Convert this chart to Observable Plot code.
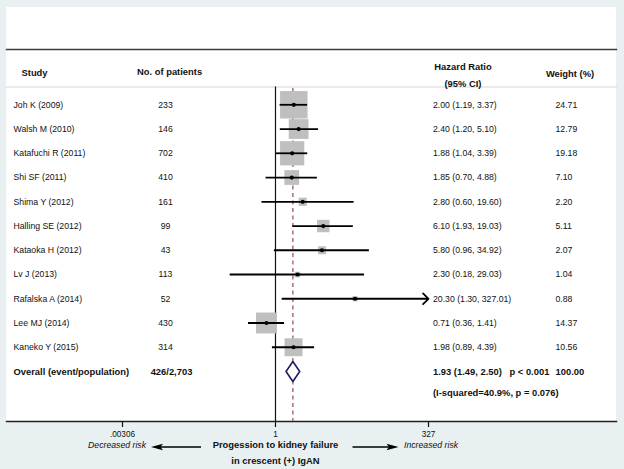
<!DOCTYPE html>
<html><head><meta charset="utf-8">
<script src="https://cdn.jsdelivr.net/npm/d3@7"></script>
<script src="https://cdn.jsdelivr.net/npm/@observablehq/plot@0.6"></script>
<style>
html,body{margin:0;padding:0;background:#e8f0f2;}
#wrap{position:relative;width:624px;height:469px;overflow:hidden;font-family:"Liberation Sans",Arial,sans-serif;}
#panel{position:absolute;left:6px;top:7px;width:610px;height:414px;background:#fff;}
#chart{position:absolute;left:0;top:0;}
#deco{position:absolute;left:0;top:0;}
</style></head><body>
<div id="wrap">
<div id="panel"></div>
<div id="chart"></div>
<svg id="deco" width="624" height="469">
  <line x1="160" y1="447" x2="201" y2="447" stroke="#000" stroke-width="1.6"/>
  <polygon points="151,447 163,443.8 160.5,447 163,450.2" fill="#000"/>
  <line x1="352.5" y1="447" x2="390" y2="447" stroke="#000" stroke-width="1.6"/>
  <polygon points="398.5,447 386.5,443.8 389,447 386.5,450.2" fill="#000"/>
</svg>
</div>
<script>
// ---- data ----
const studies = ["Joh K (2009)", "Walsh M (2010)", "Katafuchi R (2011)", "Shi SF (2011)", "Shima Y (2012)", "Halling SE (2012)", "Kataoka H (2012)", "Lv J (2013)", "Rafalska A (2014)", "Lee MJ (2014)", "Kaneko Y (2015)"];
const patients = [233, 146, 702, 410, 161, 99, 43, 113, 52, 430, 314];
const hazardRatio = [2.00, 2.40, 1.88, 1.85, 2.80, 6.10, 5.80, 2.30, 20.30, 0.71, 1.98];
const lowerCI = [1.19, 1.20, 1.04, 0.70, 0.60, 1.93, 0.96, 0.18, 1.30, 0.36, 0.89];
const upperCI = [3.37, 5.10, 3.39, 4.88, 19.60, 19.03, 34.92, 29.03, 327.01, 1.41, 4.39];
const weights = [24.71, 12.79, 19.18, 7.10, 2.20, 5.11, 2.07, 1.04, 0.88, 14.37, 10.56];

const overallLabel = "Overall (event/population)";
const overallEvents = "426/2,703";
const overallHR = 1.93, overallLo = 1.49, overallHi = 2.50;
const overallP = "p < 0.001";
const overallWeight = "100.00";
const heterogeneity = "(I-squared=40.9%, p = 0.076)";

const xTicks = [0.00306, 1, 327];
const xTickLabels = [".00306", "1", "327"];
const nullValue = 1;

const headers = {study: "Study", patients: "No. of patients", hr1: "Hazard Ratio", hr2: "(95% CI)", weight: "Weight (%)"};
const axisTitle = ["Progession to kidney failure", "in crescent (+) IgAN"];
const leftNote = "Decreased risk", rightNote = "Increased risk";

// ---- build ----
const rows = studies.map((s, i) => ({
  i, study: s, n: String(patients[i]), hr: hazardRatio[i], lo: lowerCI[i], hi: upperCI[i], w: weights[i],
  ci: `${hazardRatio[i].toFixed(2)} (${lowerCI[i].toFixed(2)}, ${upperCI[i].toFixed(2)})`,
  wt: weights[i].toFixed(2)
}));
const tickRows = xTicks.map((t, i) => ({t, label: xTickLabels[i]}));
const oi = studies.length;
const xMax = xTicks[xTicks.length - 1];
const within = rows.filter(d => d.hi <= xMax);
const beyond = rows.filter(d => d.hi > xMax);
const halfH = 0.41;
const diamond = [[overallLo, oi], [overallHR, oi - halfH], [overallHi, oi], [overallHR, oi + halfH], [overallLo, oi]].map(([x, y]) => ({x, y}));
const overallRow = [{i: oi}];

const FS = 8.7, FB = 9.4;
const ink = "#111";

const chart = Plot.plot({
  width: 624, height: 469,
  marginLeft: 6, marginRight: 8, marginTop: 49, marginBottom: 48,
  style: {background: "transparent", fontFamily: '"Liberation Sans", Arial, sans-serif', color: ink},
  x: {type: "log", domain: [xTicks[0], xMax], range: [122, 428]},
  y: {domain: [0, oi], range: [104.3, 371], axis: null},
  r: {domain: [0, d3.max(weights)], range: [0, 15.5]},
  marks: [
    Plot.frame({anchor: "top", stroke: "#3c3c3c", strokeWidth: 1.4}),
    Plot.frame({anchor: "top", dy: 37.5, stroke: "#d6d6d6", strokeWidth: 1}),
    Plot.frame({anchor: "bottom", stroke: "#222", strokeWidth: 1.4}),
    Plot.ruleX([nullValue], {stroke: "#111", strokeWidth: 1.2, insetTop: 37.5}),
    Plot.ruleX([overallHR], {stroke: "#a8707c", strokeWidth: 1.5, strokeDasharray: "4,3.5", insetTop: 39}),
    Plot.dot(rows, {x: "hr", y: "i", r: "w", symbol: "square", fill: "#bfbfbf", stroke: null}),
    Plot.ruleY(within, {y: "i", x1: "lo", x2: "hi", stroke: "#000", strokeWidth: 1.8}),
    Plot.arrow(beyond, {x1: "lo", x2: () => xMax, y1: "i", y2: "i", stroke: "#000", strokeWidth: 1.8, headAngle: 90, headLength: 6.4}),
    Plot.dot(rows, {x: "hr", y: "i", r: 2.1, fill: "#000", stroke: null}),
    Plot.line(diamond, {x: "x", y: "y", stroke: "#1c1c68", strokeWidth: 1.6, fill: "white", curve: "linear"}),
    // table columns
    Plot.text(rows, {y: "i", text: "study", frameAnchor: "left", dx: 7, textAnchor: "start", fontSize: FS}),
    Plot.text(rows, {y: "i", text: "n", frameAnchor: "left", dx: 159, textAnchor: "middle", fontSize: FS}),
    Plot.text(rows, {y: "i", text: "ci", frameAnchor: "left", dx: 426.5, textAnchor: "start", fontSize: FS}),
    Plot.text(rows, {y: "i", text: "wt", frameAnchor: "left", dx: 549, textAnchor: "start", fontSize: FS}),
    // overall row
    Plot.text(overallRow, {y: "i", text: () => overallLabel, frameAnchor: "left", dx: 7, textAnchor: "start", fontSize: FB, fontWeight: "bold"}),
    Plot.text(overallRow, {y: "i", text: () => overallEvents, frameAnchor: "left", dx: 165, textAnchor: "middle", fontSize: FB, fontWeight: "bold"}),
    Plot.text(overallRow, {y: "i", text: () => `${overallHR.toFixed(2)} (${overallLo.toFixed(2)}, ${overallHi.toFixed(2)})`, frameAnchor: "left", dx: 426.5, textAnchor: "start", fontSize: FB, fontWeight: "bold"}),
    Plot.text(overallRow, {y: "i", text: () => overallP, frameAnchor: "left", dx: 503, textAnchor: "start", fontSize: FB, fontWeight: "bold"}),
    Plot.text(overallRow, {y: "i", text: () => overallWeight, frameAnchor: "left", dx: 549, textAnchor: "start", fontSize: FB, fontWeight: "bold"}),
    Plot.text(overallRow, {y: "i", text: () => heterogeneity, frameAnchor: "left", dx: 426.5, dy: 21, textAnchor: "start", fontSize: FB, fontWeight: "bold"}),
    // headers
    Plot.text([headers.study], {frameAnchor: "top-left", dx: 15, dy: 19.5, textAnchor: "start", fontSize: FB, fontWeight: "bold"}),
    Plot.text([headers.patients], {frameAnchor: "top-left", dx: 130.5, dy: 18.5, textAnchor: "start", fontSize: FB, fontWeight: "bold"}),
    Plot.text([headers.hr1], {frameAnchor: "top-left", dx: 456.5, dy: 13.5, textAnchor: "middle", fontSize: FB, fontWeight: "bold"}),
    Plot.text([headers.hr2], {frameAnchor: "top-left", dx: 456.5, dy: 31, textAnchor: "middle", fontSize: FB, fontWeight: "bold"}),
    Plot.text([headers.weight], {frameAnchor: "top-left", dx: 563.5, dy: 20.5, textAnchor: "middle", fontSize: FB, fontWeight: "bold"}),
    // axis
    Plot.axisX({ticks: xTicks, tickFormat: () => "", tickSize: 6, label: null, stroke: "#111", strokeWidth: 1.2}),
    Plot.text(tickRows, {x: "t", text: "label", frameAnchor: "bottom", dy: 15, textAnchor: "middle", fontSize: 8.2}),
    Plot.text([axisTitle[0]], {x: () => nullValue, frameAnchor: "bottom", dy: 26.5, textAnchor: "middle", fontSize: FB, fontWeight: "bold"}),
    Plot.text([axisTitle[1]], {x: () => nullValue, frameAnchor: "bottom", dy: 42, textAnchor: "middle", fontSize: FB, fontWeight: "bold"}),
    Plot.text([leftNote], {frameAnchor: "bottom-left", dx: 139.5, dy: 26.5, textAnchor: "end", fontSize: FS, fontStyle: "italic"}),
    Plot.text([rightNote], {frameAnchor: "bottom-left", dx: 397.5, dy: 26.5, textAnchor: "start", fontSize: FS, fontStyle: "italic"})
  ]
});
document.getElementById("chart").appendChild(chart);
</script>
</body></html>
